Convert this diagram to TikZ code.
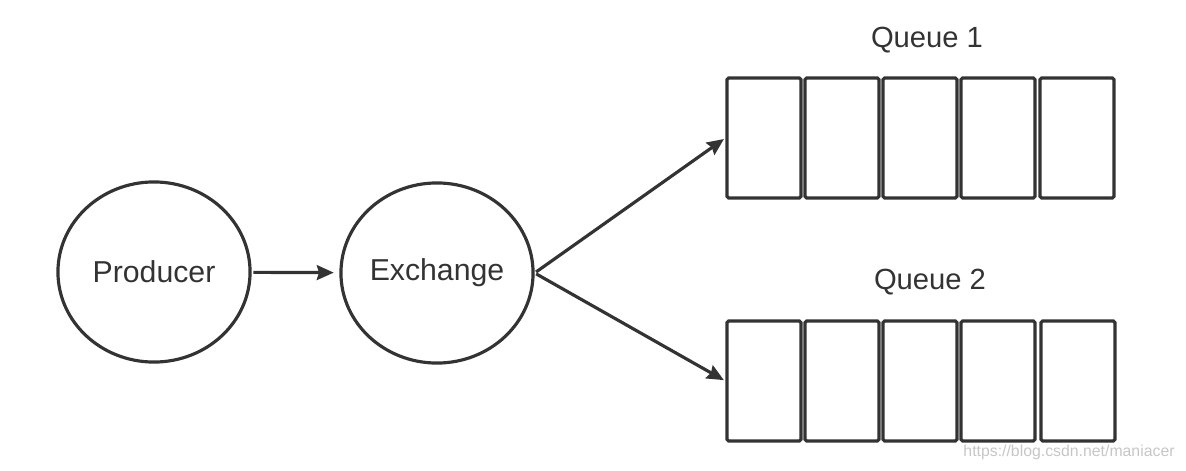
\documentclass[tikz,border=0pt]{standalone}
\usepackage{fontspec}
\setmainfont{Liberation Sans}
\usepackage{xcolor}
\usepackage{tikz}
\usetikzlibrary{shapes.geometric, arrows.meta}
\definecolor{inkgray}{HTML}{333333}
\tikzset{
  party/.style={
    draw = inkgray,
    line width = 0.9pt,
    ellipse,
    inner sep = 0pt,
    minimum width = 1.92cm,
    minimum height = 1.80cm,
    text = inkgray,
    font = \fontsize{8.6}{10}\selectfont
  },
  slot/.style={
    draw = inkgray,
    line width = 0.9pt,
    rounded corners = 0.5pt,
    minimum width = 0.74cm,
    minimum height = 1.20cm,
    inner sep = 0pt
  },
  qlabel/.style={
    text = inkgray,
    font = \fontsize{8.3}{10}\selectfont
  },
  feed/.style={
    draw = inkgray,
    line width = 0.9pt,
    -{Stealth[length=4.8pt, width=4.2pt, inset=0.6pt]},
    shorten >= 0.5pt,
    shorten <= 0.5pt
  }
}

\begin{document}
\begin{tikzpicture}[x=0.01cm, y=-0.01cm]
\useasboundingbox (0,0) rectangle (1186,470);
\node[party] (Prod) at (154,272) {Producer};
\node[party] (Exch) at (437,273) {Exchange};
\node[qlabel] (Lab1) at (927,40) {Queue 1};
\node[slot] (Q11) at (764,138) {};
\node[slot] (Q12) at (842,138) {};
\node[slot] (Q13) at (920,138) {};
\node[slot] (Q14) at (998,138) {};
\node[slot] (Q15) at (1077,138) {};
\node[qlabel] (Lab2) at (930,282) {Queue 2};
\node[slot] (Q21) at (764,381) {};
\node[slot] (Q22) at (842,381) {};
\node[slot] (Q23) at (920,381) {};
\node[slot] (Q24) at (998,381) {};
\node[slot] (Q25) at (1078,381) {};
\node[text=gray!45, font=\fontsize{4.5}{5}\selectfont] (Mark) at (1069,452) {https://blog.csdn.net/maniacer};

\path (Prod) edge[feed, shorten >= 1.6pt] (Exch)
      (Exch.east) edge[feed] (Q11.west)
      (Exch.east) edge[feed] (Q21.west);
\end{tikzpicture}
\end{document}
